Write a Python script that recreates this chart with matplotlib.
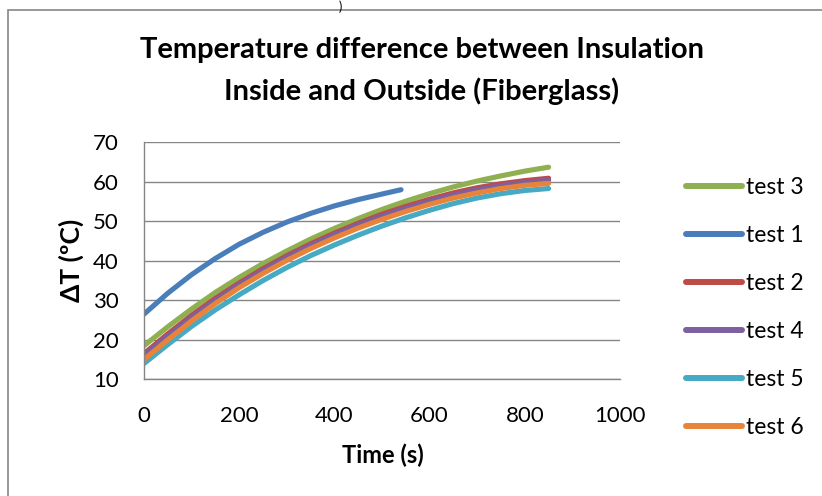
import matplotlib
matplotlib.use("Agg")
import matplotlib.pyplot as plt
from matplotlib.patches import Rectangle

plt.rcParams['font.family'] = ['Lato', 'DejaVu Sans']

t_long = [0, 50, 100, 150, 200, 250, 300, 350, 400, 450, 500, 550, 600, 650, 700, 750, 800, 850]
t_short = [0, 50, 100, 150, 200, 250, 300, 350, 400, 450, 500, 540]

test3 = [18.5, 23.3, 27.8, 32.0, 35.8, 39.3, 42.5, 45.5, 48.2, 50.7, 53.0, 55.1, 57.0, 58.7, 60.2, 61.5, 62.7, 63.7]
test1 = [26.5, 31.8, 36.5, 40.6, 44.2, 47.2, 49.8, 52.0, 53.9, 55.5, 56.9, 58.0]
test2 = [16.5, 21.5, 26.2, 30.5, 34.4, 38.0, 41.3, 44.3, 47.0, 49.5, 51.8, 53.8, 55.6, 57.2, 58.5, 59.5, 60.3, 60.9]
test4 = [16.0, 21.0, 25.7, 30.0, 34.0, 37.6, 40.9, 43.9, 46.6, 49.1, 51.3, 53.3, 55.1, 56.7, 58.0, 59.0, 59.8, 60.4]
test5 = [14.0, 18.8, 23.4, 27.6, 31.4, 35.0, 38.3, 41.3, 44.0, 46.5, 48.8, 50.9, 52.8, 54.5, 55.9, 57.0, 57.8, 58.3]
test6 = [15.0, 20.0, 24.8, 29.2, 33.2, 36.8, 40.1, 43.1, 45.8, 48.3, 50.5, 52.5, 54.3, 55.9, 57.2, 58.3, 59.1, 59.6]

series = [
    ("test 3", t_long, test3, "#8FB050"),
    ("test 1", t_short, test1, "#4A7EBB"),
    ("test 2", t_long, test2, "#BE4B48"),
    ("test 4", t_long, test4, "#7D60A0"),
    ("test 5", t_long, test5, "#46AAC5"),
    ("test 6", t_long, test6, "#E8843A"),
]

x_ticks = [0, 200, 400, 600, 800, 1000]
y_ticks = [10, 20, 30, 40, 50, 60, 70]

W, H = 822, 496
fig = plt.figure(figsize=(W / 100, H / 100), dpi=100)
fig.patches.append(Rectangle((8 / W, -0.1), 1.2, 1 - 10 / H + 0.1, transform=fig.transFigure,
                             fill=False, edgecolor="#868686", linewidth=1.2))
fig.text(340 / W, 1.0, ")", ha='center', va='top', fontsize=9)

ax = fig.add_axes([144 / W, 1 - 379.3 / H, (620 - 144) / W, (379.3 - 142.3) / H])
for name, t, v, c in series:
    ax.plot(t, v, color=c, linewidth=3.7, solid_capstyle='round', label=name)

ax.set_xlim(0, 1000)
ax.set_ylim(10, 70)
ax.set_xticks(x_ticks)
ax.set_yticks(y_ticks)
ax.tick_params(length=0, labelsize=16, colors='black')
ax.tick_params(axis='x', pad=19)
ax.tick_params(axis='y', pad=18)
ax.grid(axis='y', color='#868686', linewidth=1.0)
ax.set_axisbelow(True)
for s in ['top', 'right']:
    ax.spines[s].set_visible(False)
for s in ['left', 'bottom']:
    ax.spines[s].set_color('#868686')
    ax.spines[s].set_linewidth(1.0)

ax.set_xlabel("Time (s)", fontsize=17, fontweight='bold')
ax.xaxis.set_label_coords((383 - 144) / 476, -0.27)
ax.set_ylabel("ΔT (ºC)", fontsize=19, fontweight='bold')
ax.yaxis.set_label_coords((84 - 144) / 476, 0.5)

fig.text(422 / W, 1 - 58 / H, "Temperature difference between Insulation",
         ha='center', va='baseline', fontsize=21, fontweight='bold')
fig.text(422 / W, 1 - 100 / H, "Inside and Outside (Fiberglass)",
         ha='center', va='baseline', fontsize=21, fontweight='bold')

fig.legend(loc='upper left', bbox_to_anchor=(686 / W, 1 - 177 / H), frameon=False,
           fontsize=16.5, handlelength=2.45, handletextpad=0.15, labelspacing=1.18,
           borderaxespad=0, borderpad=0)
for line in fig.legends[0].get_lines():
    line.set_linewidth(4.3)

fig.savefig("out.png", dpi=100)
